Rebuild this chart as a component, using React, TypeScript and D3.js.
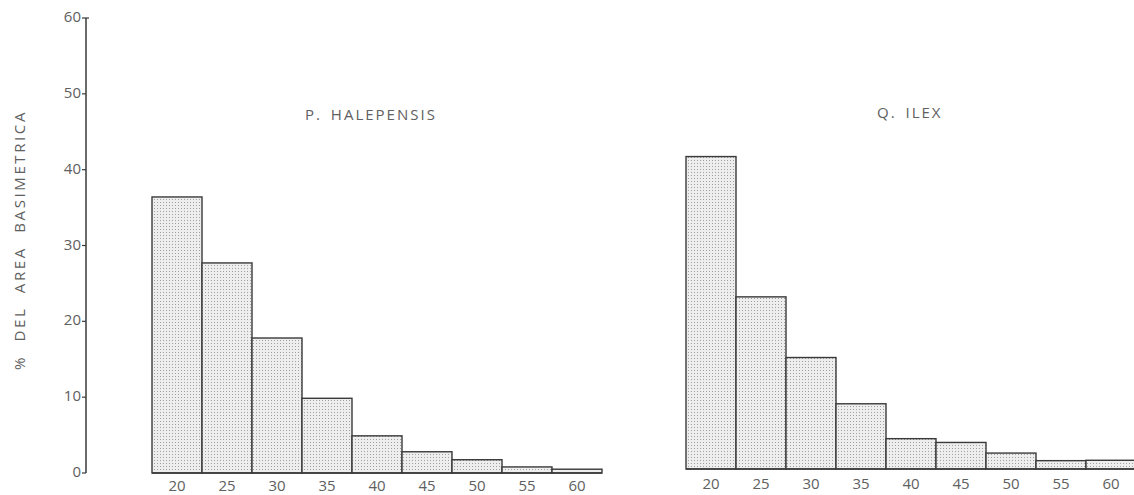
import React from "react";
import * as d3 from "d3";

const categories = ["20", "25", "30", "35", "40", "45", "50", "55", "60"];
const halepensisValues = [36.4, 27.7, 17.8, 9.85, 4.9, 2.8, 1.75, 0.8, 0.5];
const ilexValues = [41.2, 22.7, 14.7, 8.6, 4.0, 3.5, 2.1, 1.1, 1.15];
const yTicks = [0, 10, 20, 30, 40, 50, 60];
const panelTitles = ["P. HALEPENSIS", "Q. ILEX"];
const yAxisTitle = "% DEL AREA BASIMETRICA";

const W = 1134;
const H = 495;
const FONT = "'Open Sans', 'DejaVu Sans', sans-serif";
const TEXT = "#606060";
const STROKE = "#3a3a3a";

type PanelProps = {
  values: number[];
  x0: number;
  x1: number;
  base: number;
  top: number;
  title: string;
  titleX: number;
  titleY: number;
  labelY: number;
};

function Panel({ values, x0, x1, base, top, title, titleX, titleY, labelY }: PanelProps) {
  const x = d3.scaleBand<string>().domain(categories).range([x0, x1]).paddingInner(0).paddingOuter(0);
  const y = d3.scaleLinear().domain([0, 60]).range([base, top]);
  return (
    <g>
      <text x={titleX} y={titleY} fontFamily={FONT} fontSize={15} fill={TEXT} letterSpacing={2} wordSpacing={3} dominantBaseline="middle">
        {title}
      </text>
      {categories.map((c, i) => (
        <rect
          key={c}
          x={x(c)!}
          y={y(values[i])}
          width={x.bandwidth()}
          height={y(0) - y(values[i])}
          fill="url(#stipple)"
          stroke={STROKE}
          strokeWidth={1.4}
        />
      ))}
      <line x1={x0} x2={x1} y1={y(0)} y2={y(0)} stroke={STROKE} strokeWidth={1.4} />
      {categories.map((c) => (
        <text
          key={"l" + c}
          x={x(c)! + x.bandwidth() / 2}
          y={labelY}
          textAnchor="middle"
          dominantBaseline="middle"
          fontFamily={FONT}
          fontSize={15}
          fill={TEXT}
        >
          {c}
        </text>
      ))}
    </g>
  );
}

export default function App() {
  const axisX = 86;
  const y = d3.scaleLinear().domain([0, 60]).range([473, 18]);
  return (
    <div style={{ position: "absolute", left: 0, top: 0 }}>
      <svg width={W} height={H} style={{ display: "block", background: "#fff" }}>
        <defs>
          <pattern id="stipple" width={3} height={3} patternUnits="userSpaceOnUse">
            <rect width={3} height={3} fill="#eeeeee" />
            <rect x={1} y={1} width={1} height={1} fill="#a0a0a0" />
          </pattern>
        </defs>
        <line x1={axisX} x2={axisX} y1={y(60)} y2={y(0)} stroke={STROKE} strokeWidth={1.5} />
        {yTicks.map((t) => (
          <g key={t}>
            <line
              x1={axisX - 4}
              x2={t === 60 ? axisX + 3 : axisX}
              y1={y(t)}
              y2={y(t)}
              stroke={STROKE}
              strokeWidth={1.2}
            />
            <text
              x={axisX - 5}
              y={y(t)}
              textAnchor="end"
              dominantBaseline="middle"
              fontFamily={FONT}
              fontSize={15}
              fill={TEXT}
            >
              {t}
            </text>
          </g>
        ))}
        <text
          transform={`translate(21, ${240}) rotate(-90)`}
          textAnchor="middle"
          dominantBaseline="middle"
          fontFamily={FONT}
          fontSize={15}
          letterSpacing={2.6}
          wordSpacing={7}
          fill={TEXT}
        >
          {yAxisTitle}
        </text>
        <Panel
          values={halepensisValues}
          x0={152}
          x1={602}
          base={473}
          top={18}
          title={panelTitles[0]}
          titleX={305}
          titleY={116}
          labelY={487}
        />
        <Panel
          values={ilexValues}
          x0={686}
          x1={1136}
          base={469}
          top={14}
          title={panelTitles[1]}
          titleX={877}
          titleY={114}
          labelY={485}
        />
      </svg>
    </div>
  );
}
